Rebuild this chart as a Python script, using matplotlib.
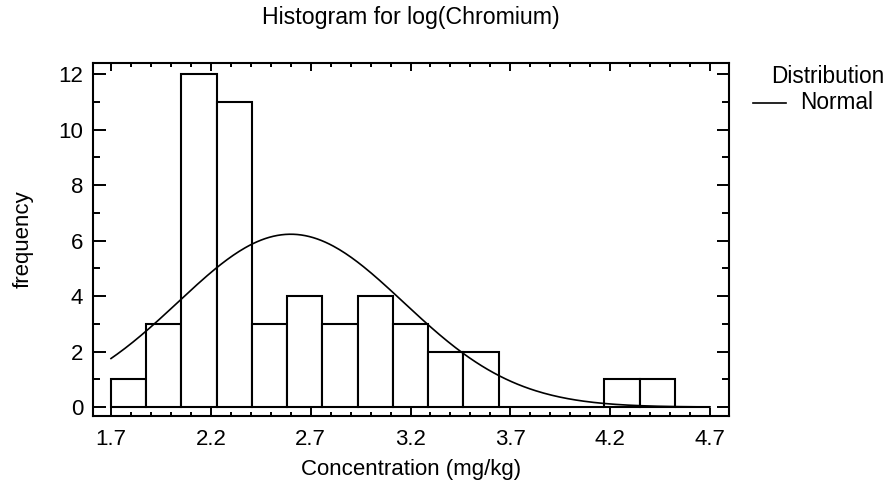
import numpy as np
import matplotlib
matplotlib.use("Agg")
import matplotlib.pyplot as plt
from matplotlib.ticker import MultipleLocator, FixedLocator
from matplotlib.lines import Line2D

plt.rcParams['font.family'] = ['Liberation Sans', 'DejaVu Sans']

# Data
bin_start = 1.7
bin_end = 4.7
n_bins = 17
counts = [1, 3, 12, 11, 3, 4, 3, 4, 3, 2, 2, 0, 0, 0, 1, 1, 0]
fit_mean = 2.60
fit_sd = 0.565
x_ticks = [1.7, 2.2, 2.7, 3.2, 3.7, 4.2, 4.7]
y_ticks = [0, 2, 4, 6, 8, 10, 12]

title = "Histogram for log(Chromium)"
xlabel = "Concentration (mg/kg)"
ylabel = "frequency"

fig = plt.figure(figsize=(8.91, 4.87), dpi=100)
ax = fig.add_axes([0.1044, 0.1458, 0.8182 - 0.1044, 0.8706 - 0.1458])

edges = np.linspace(bin_start, bin_end, n_bins + 1)
width = edges[1] - edges[0]
ax.bar(edges[:-1], counts, width=width, align='edge', facecolor='white',
       edgecolor='black', linewidth=1.5, zorder=2)

xs = np.linspace(bin_start, bin_end, 300)
N = sum(counts)
ys = N * width / (fit_sd * np.sqrt(2 * np.pi)) * np.exp(-0.5 * ((xs - fit_mean) / fit_sd) ** 2)
ax.plot(xs, ys, color='black', linewidth=1.2, zorder=3)

ax.set_xlim(1.61, 4.795)
ax.set_ylim(-0.32, 12.4)
ax.xaxis.set_major_locator(FixedLocator(x_ticks))
ax.xaxis.set_minor_locator(MultipleLocator(0.1))
ax.yaxis.set_major_locator(FixedLocator(y_ticks))
ax.yaxis.set_minor_locator(MultipleLocator(1))
ax.set_xticklabels([f"{v:.1f}" for v in x_ticks])
ax.set_yticklabels([str(v) for v in y_ticks])

for s in ax.spines.values():
    s.set_linewidth(1.5)

ax.tick_params(axis='both', which='both', direction='in', top=True, right=True,
               labelsize=16, width=1.4, colors='black')
ax.tick_params(axis='x', which='major', length=5.5, pad=9.5)
ax.tick_params(axis='x', which='minor', length=3)
ax.tick_params(axis='y', which='major', length=9, pad=7)
ax.tick_params(axis='y', which='minor', length=5)

ax.set_xlabel(xlabel, fontsize=16, labelpad=6)
ax.set_ylabel(ylabel, fontsize=16, labelpad=18)
fig.text(0.4613, 0.965, title, ha='center', va='center', fontsize=16.7)

fig.text(0.929, 0.842, "Distribution", ha='center', va='center', fontsize=16.3)
fig.add_artist(Line2D([0.845, 0.882], [0.789, 0.789], transform=fig.transFigure,
                      color='black', linewidth=1.2))
fig.text(0.898, 0.789, "Normal", ha='left', va='center', fontsize=16.3)

fig.savefig("out.png", dpi=100)
